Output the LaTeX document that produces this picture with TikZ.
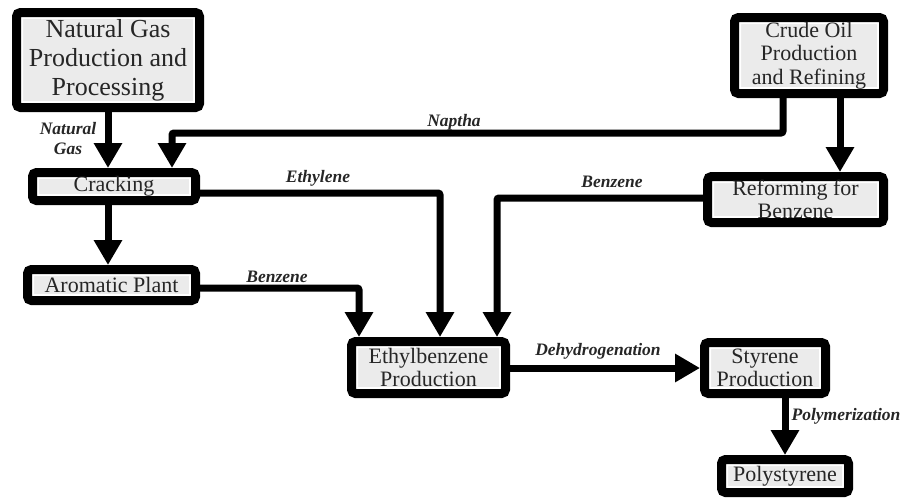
\documentclass[tikz,border=0pt]{standalone}
\usepackage{fontspec}
\setmainfont{Liberation Serif}
\usetikzlibrary{arrows.meta}
\begin{document}
\begin{tikzpicture}[x=1pt,y=-1pt,
  box/.style={draw=black, line width=9pt, rounded corners=4pt, fill=black!8,
    inner sep=0pt, outer sep=4.5pt, align=center, text=black!85,
    font=\fontsize{22}{23.5}\selectfont,
    path picture={\draw[white, line width=13pt]
      (path picture bounding box.south west) rectangle (path picture bounding box.north east);}},
  arr/.style={draw=black, line width=7pt, rounded corners=2pt,
    -{Triangle[width=27pt,length=25pt]}},
  lab/.style={font=\fontsize{17.5}{20}\bfseries\itshape\selectfont, align=center, text=black!85}]
\useasboundingbox (0,0) rectangle (908,499);
% boxes
\node[box, minimum width=183pt, minimum height=95pt, font=\fontsize{26}{29}\selectfont] (ng) at (108,60) {Natural Gas\\Production and\\Processing};
\node[box, minimum width=149pt, minimum height=76pt] (crude) at (809,55.5) {Crude Oil\\Production\\and Refining};
\node[box, minimum width=163pt, minimum height=28pt] (crack) at (114,186.5) {Cracking};
\node[box, minimum width=168pt, minimum height=31pt] (arom) at (111.5,285) {Aromatic Plant};
\node[box, minimum width=154pt, minimum height=52pt] (eb) at (428.5,367.5) {Ethylbenzene\\Production};
\node[box, minimum width=176pt, minimum height=46pt] (ref) at (795.5,199.5) {Reforming for\\Benzene};
\node[box, minimum width=121pt, minimum height=51pt] (sty) at (765,368) {Styrene\\Production};
\node[box, minimum width=127pt, minimum height=33pt] (poly) at (785,476) {Polystyrene};
% coordinates
\coordinate (nap) at (172,133);
\coordinate (eth) at (440,193);
\coordinate (bzr) at (497,198);
\coordinate (bza) at (359,288);
% connectors
\draw[arr] (ng.south) -- (ng.south |- crack.north);
\draw[arr] ([xshift=-26pt]crude.south) |- (nap) -- (nap |- crack.north);
\draw[arr] ([xshift=31pt]crude.south) -- ([xshift=31pt]crude.south |- ref.north);
\draw[arr] ([xshift=-6pt]crack.south) -- ([xshift=-6pt]crack.south |- arom.north);
\draw[arr] (crack.east |- eth) -- (eth) -- (eth |- eb.north);
\draw[arr] (ref.west |- bzr) -- (bzr) -- (bzr |- eb.north);
\draw[arr] (arom.east |- bza) -- (bza) -- (bza |- eb.north);
\draw[arr] (eb.east |- sty.west) -- (sty.west);
\draw[arr] (sty.south -| poly.north) -- (poly.north);
% labels
\node[lab] (l1) at (68,139) {Natural\\Gas};
\node[lab] (l2) at (454,122) {Naptha};
\node[lab] (l3) at (318,178) {Ethylene};
\node[lab] (l4) at (612,182) {Benzene};
\node[lab] (l5) at (277,277) {Benzene};
\node[lab] (l6) at (598,351) {Dehydrogenation};
\node[lab] (l7) at (846,416) {Polymerization};
\end{tikzpicture}
\end{document}
